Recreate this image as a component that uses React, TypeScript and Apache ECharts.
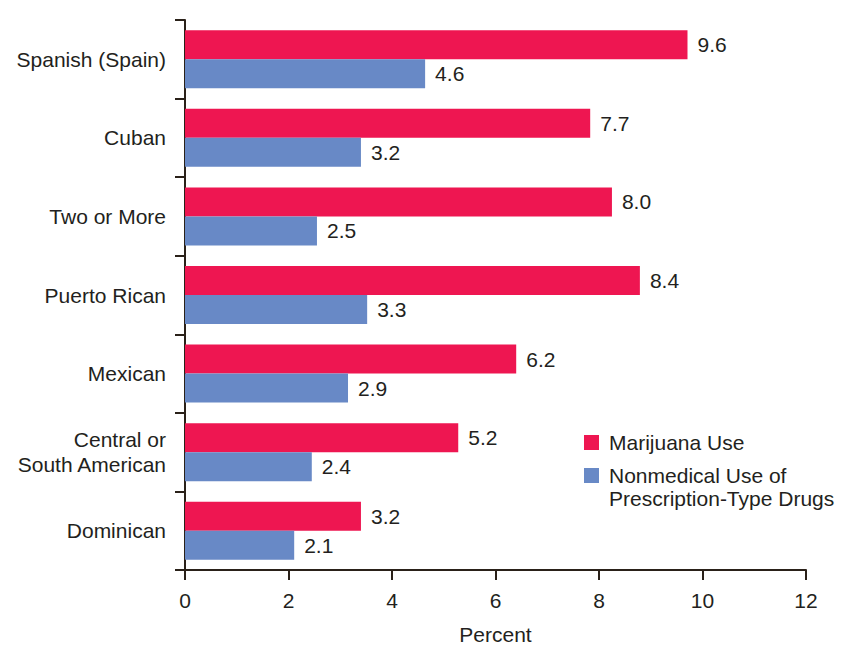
import React, { useEffect, useRef } from "react";
import * as echarts from "echarts";

const categories = [
  "Spanish (Spain)",
  "Cuban",
  "Two or More",
  "Puerto Rican",
  "Mexican",
  "Central or\nSouth American",
  "Dominican",
];
// Bar lengths as drawn against the axis in the reference
const marijuana = [9.71, 7.83, 8.25, 8.79, 6.4, 5.28, 3.4];
const nonmedical = [4.64, 3.4, 2.55, 3.52, 3.15, 2.45, 2.11];
// Values printed at the bar ends
const marijuanaLabels = ["9.6", "7.7", "8.0", "8.4", "6.2", "5.2", "3.2"];
const nonmedicalLabels = ["4.6", "3.2", "2.5", "3.3", "2.9", "2.4", "2.1"];
const seriesNames = ["Marijuana Use", "Nonmedical Use of\nPrescription-Type Drugs"];

const RED = "#EE1651";
const BLUE = "#6889C6";
const INK = "#231F20";
const AXIS = "#2A2119";
const FONT = "'Liberation Sans', Arial, Helvetica, sans-serif";
const FS = 21;

export default function App() {
  const ref = useRef<HTMLDivElement>(null);
  useEffect(() => {
    if (!ref.current) return;
    const chart = echarts.init(ref.current, null, { renderer: "svg" });
    const labelStyle = (texts: string[]) => ({
      show: true,
      position: "right",
      distance: 10,
      color: INK,
      fontSize: FS,
      fontFamily: FONT,
      formatter: (p: any) => texts[p.dataIndex],
    });
    chart.setOption({
      animation: false,
      backgroundColor: "#fff",
      textStyle: { fontFamily: FONT, color: INK },
      grid: { left: 185, right: 42, top: 20, bottom: 85, containLabel: false },
      xAxis: {
        type: "value",
        min: 0,
        max: 12,
        interval: 2,
        name: "Percent",
        nameLocation: "middle",
        nameGap: 54,
        nameTextStyle: { fontSize: FS, color: INK, fontFamily: FONT },
        axisLine: { show: true, lineStyle: { color: AXIS, width: 2 } },
        axisTick: { show: true, length: 10, lineStyle: { color: AXIS, width: 2 } },
        axisLabel: { margin: 20, fontSize: FS, color: INK, fontFamily: FONT },
        splitLine: { show: false },
      },
      yAxis: {
        type: "category",
        data: categories,
        inverse: true,
        axisLine: { show: true, lineStyle: { color: AXIS, width: 2 } },
        axisTick: { show: true, length: 10, lineStyle: { color: AXIS, width: 2 } },
        axisLabel: {
          margin: 19,
          fontSize: FS,
          lineHeight: 25,
          color: INK,
          fontFamily: FONT,
          align: "right",
        },
      },
      series: [
        {
          name: seriesNames[0],
          type: "bar",
          data: marijuana,
          barWidth: 29,
          barGap: "0%",
          itemStyle: { color: RED },
          label: labelStyle(marijuanaLabels),
        },
        {
          name: seriesNames[1],
          type: "bar",
          data: nonmedical,
          barWidth: 29,
          barGap: "0%",
          itemStyle: { color: BLUE },
          label: labelStyle(nonmedicalLabels),
        },
      ],
      graphic: [
        { type: "rect", left: 584, top: 435, shape: { width: 15, height: 15 }, style: { fill: RED } },
        { type: "rect", left: 584, top: 468, shape: { width: 15, height: 15 }, style: { fill: BLUE } },
        {
          type: "text",
          left: 609,
          top: 431,
          style: { text: seriesNames[0], fontSize: FS, fontFamily: FONT, fill: INK, lineHeight: 23 },
        },
        {
          type: "text",
          left: 609,
          top: 464,
          style: { text: seriesNames[1], fontSize: FS, fontFamily: FONT, fill: INK, lineHeight: 23 },
        },
      ],
    });
    return () => chart.dispose();
  }, []);
  return <div ref={ref} style={{ width: 848, height: 655, margin: -8 }} />;
}
